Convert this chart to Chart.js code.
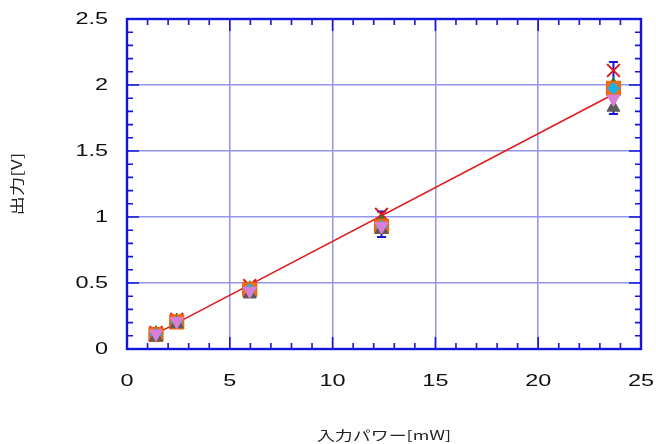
<!DOCTYPE html>
<html>
<head>
<meta charset="utf-8">
<script src="https://cdn.jsdelivr.net/npm/chart.js@4.4.1/dist/chart.umd.min.js"></script>
<style>
  html, body { margin: 0; padding: 0; background: #fff; }
</style>
</head>
<body>
<canvas id="chart" width="656" height="444"></canvas>
<script>
// input power [mW] and the six measured series [V]
var power = [1.41, 2.42, 5.97, 12.38, 23.66];
var crossVals = [0.125, 0.225, 0.48, 1.02, 2.11];
var upVals = [0.12, 0.215, 0.46, 0.96, 2.00];
var squareVals = [0.11, 0.205, 0.45, 0.93, 1.975];
var diamondVals = [0.11, 0.205, 0.45, 0.93, 1.975];
var grayVals = [0.09, 0.19, 0.415, 0.905, 1.83];
var pinkVals = [0.115, 0.21, 0.44, 0.93, 1.895];
// mean and error half-width
var meanVals = [0.11, 0.205, 0.45, 0.945, 1.977];
var errVals = [0.01, 0.012, 0.035, 0.097, 0.197];
// fitted line
var fitX = [1.41, 23.66];
var fitY = [0.115, 1.93];
var xTicks = [0, 5, 10, 15, 20, 25];
var yTicks = [0, 0.5, 1, 1.5, 2, 2.5];

var BLUE = '#1414dc';
var GRID = '#9494e8';
var TEXT_STRETCH = 1.38;

var canvas = document.getElementById('chart');
var ctx = canvas.getContext('2d');

// the original draws its lettering wide, so stretch text sideways
var baseFillText = ctx.fillText;
ctx.fillText = function (text, x, y) {
  this.save();
  this.translate(x, y);
  this.scale(TEXT_STRETCH, 1);
  baseFillText.call(this, text, 0, 0);
  this.restore();
};

function pts(vals) {
  return power.map(function (p, i) { return { x: p, y: vals[i] }; });
}

var framePlugin = {
  id: 'frame',
  beforeDatasetsDraw: function (chart) {
    var c = chart.ctx, a = chart.chartArea;
    var sx = chart.scales.x, sy = chart.scales.y;
    c.save();
    c.strokeStyle = BLUE;
    c.lineWidth = 1.6;
    c.beginPath();
    for (var i = 0; i <= 25; i++) {
      var px = sx.getPixelForValue(i);
      var len = i % 5 === 0 ? 12 : 6;
      c.moveTo(px, a.bottom); c.lineTo(px, a.bottom - len);
      c.moveTo(px, a.top); c.lineTo(px, a.top + len);
    }
    for (var j = 0; j <= 25; j++) {
      var py = sy.getPixelForValue(j / 10);
      var len2 = j % 5 === 0 ? 12 : 6;
      c.moveTo(a.left, py); c.lineTo(a.left + len2, py);
      c.moveTo(a.right, py); c.lineTo(a.right - len2, py);
    }
    c.stroke();
    c.lineWidth = 2.4;
    c.strokeRect(a.left, a.top, a.right - a.left, a.bottom - a.top);

    // error bars
    c.lineWidth = 2;
    c.beginPath();
    power.forEach(function (p, k) {
      var x = sx.getPixelForValue(p);
      var top = sy.getPixelForValue(meanVals[k] + errVals[k]);
      var bot = sy.getPixelForValue(meanVals[k] - errVals[k]);
      c.moveTo(x, top); c.lineTo(x, bot);
      c.moveTo(x - 4.5, top); c.lineTo(x + 4.5, top);
      c.moveTo(x - 4.5, bot); c.lineTo(x + 4.5, bot);
    });
    c.stroke();
    c.restore();
  }
};

var gridColor = function (ctx) {
  var v = ctx.tick.value;
  return (v === 0 || v === 25 || v === 2.5) ? 'rgba(0,0,0,0)' : GRID;
};

var chart = new Chart(canvas, {
  type: 'scatter',
  data: {
    datasets: [{
      data: pts(pinkVals),
      pointStyle: 'triangle', rotation: 180, pointRadius: 7.5,
      backgroundColor: '#d97fd9', borderColor: '#d97fd9', borderWidth: 1
    }, {
      data: pts(grayVals),
      pointStyle: 'triangle', pointRadius: 7.5,
      backgroundColor: '#5c5c5c', borderColor: '#5c5c5c', borderWidth: 1
    }, {
      data: pts(diamondVals),
      pointStyle: 'rectRot', pointRadius: 6,
      backgroundColor: '#1cb2e6', borderColor: '#1cb2e6', borderWidth: 1
    }, {
      data: pts(squareVals),
      pointStyle: 'rect', pointRadius: 10,
      backgroundColor: '#f26c14', borderColor: '#e8600c', borderWidth: 1
    }, {
      data: pts(upVals),
      pointStyle: 'triangle', pointRadius: 7.5,
      backgroundColor: '#2a7a30', borderColor: '#2a7a30', borderWidth: 1
    }, {
      data: pts(crossVals),
      pointStyle: 'crossRot', pointRadius: 9,
      borderColor: '#e01818', borderWidth: 2
    }, {
      data: fitX.map(function (x, i) { return { x: x, y: fitY[i] }; }),
      showLine: true, pointRadius: 0,
      borderColor: '#e01818', borderWidth: 1.5
    }]
  },
  options: {
    responsive: false,
    animation: false,
    devicePixelRatio: 1,
    layout: { padding: 0 },
    plugins: {
      legend: { display: false },
      tooltip: { enabled: false }
    },
    scales: {
      x: {
        type: 'linear', min: 0, max: 25,
        afterBuildTicks: function (s) { s.ticks = xTicks.map(function (v) { return { value: v }; }); },
        afterFit: function (s) { s.height = 95; s.paddingLeft = 0; s.paddingRight = 15; },
        border: { display: false },
        grid: { color: gridColor, lineWidth: 1.5, drawTicks: false },
        ticks: {
          autoSkip: false, maxRotation: 0, padding: 22, color: '#111',
          font: { family: 'Liberation Sans', size: 17 }
        },
        title: {
          display: true, text: '入力パワー[mW]', color: '#222',
          font: { family: 'Noto Sans CJK JP', size: 13 },
          padding: { top: 0, bottom: 1 }
        }
      },
      y: {
        type: 'linear', min: 0, max: 2.5,
        afterBuildTicks: function (s) { s.ticks = yTicks.map(function (v) { return { value: v }; }); },
        afterFit: function (s) { s.width = 127; s.paddingTop = 19; s.paddingBottom = 0; },
        border: { display: false },
        grid: { color: gridColor, lineWidth: 1.5, drawTicks: false },
        ticks: {
          autoSkip: false, padding: 19, color: '#111',
          font: { family: 'Liberation Sans', size: 17 },
          callback: function (v) { return String(v); }
        },
        title: {
          display: true, text: '出力[V]', color: '#222',
          font: { family: 'Noto Sans CJK JP', size: 14 },
          padding: { top: 8, bottom: 0 }
        }
      }
    }
  },
  plugins: [framePlugin]
});
</script>
</body>
</html>
